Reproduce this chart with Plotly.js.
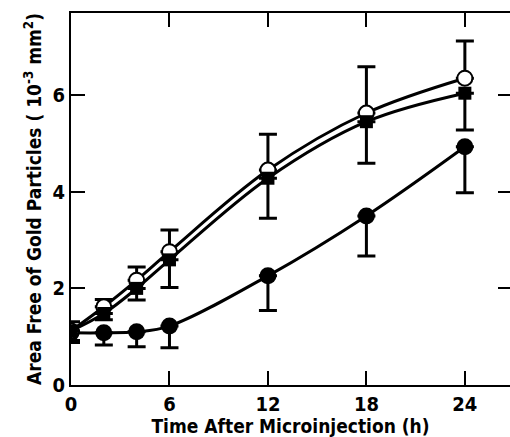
<!DOCTYPE html>
<html><head><meta charset="utf-8">
<script src="https://cdn.plot.ly/plotly-3.0.1.min.js"></script>
<style>html,body{margin:0;padding:0;background:#fff}</style>
</head><body>
<div id="chart" style="width:510px;height:437px"></div>
<script>
const hours = [0, 2, 4, 6, 12, 18, 24];
const openCircle = [1.12, 1.62, 2.17, 2.76, 4.45, 5.63, 6.35];
const openCircleErrUp = [0.19, 0.15, 0.27, 0.45, 0.74, 0.96, 0.77];
const filledSquare = [1.12, 1.48, 2.0, 2.59, 4.28, 5.45, 6.04];
const filledSquareErrDown = [0.2, 0.13, 0.24, 0.57, 0.83, 0.86, 0.76];
const filledCircle = [1.08, 1.08, 1.1, 1.22, 2.26, 3.5, 4.93];
const filledCircleErrDown = [0.2, 0.25, 0.31, 0.45, 0.72, 0.83, 0.95];
const xTicks = [0, 6, 12, 18, 24];
const yTicks = [0, 2, 4, 6];
const zeros = hours.map(() => 0);

const FONT = '"DejaVu Sans Condensed", "DejaVu Sans", sans-serif';

function errUp(arr) { return {type:'data', symmetric:false, array:arr, arrayminus:zeros, color:'#000', thickness:3, width:9}; }
function errDown(arr) { return {type:'data', symmetric:false, array:zeros, arrayminus:arr, color:'#000', thickness:3, width:9}; }

const traces = [
  {x: hours, y: filledCircle, mode:'lines+markers', line:{color:'#000', width:3, shape:'spline'},
   marker:{symbol:'circle', size:17, color:'#000'}, error_y: errDown(filledCircleErrDown)},
  {x: hours, y: openCircle, mode:'lines+markers', line:{color:'#000', width:3, shape:'spline'},
   marker:{symbol:'circle', size:15, color:'#fff', line:{color:'#000', width:2}}, error_y: errUp(openCircleErrUp)},
  {x: hours, y: filledSquare, mode:'lines+markers', line:{color:'#000', width:3, shape:'spline'},
   marker:{symbol:'square', size:13, color:'#000'}, error_y: errDown(filledSquareErrDown)}
];

const f = (size) => ({family:FONT, size:size, weight:'bold', stretch:'condensed', color:'#000'});

const layout = {
  width:510, height:437,
  margin:{l:71, r:0, t:13, b:52},
  paper_bgcolor:'#fff', plot_bgcolor:'#fff',
  showlegend:false,
  font:f(19),
  xaxis:{
    range:[0, 26.75], tickvals:xTicks, ticktext:xTicks.map(String),
    ticks:'inside', ticklen:14, tickwidth:2, tickcolor:'#000',
    showline:true, linecolor:'#000', linewidth:2, mirror:'ticks',
    showgrid:false, zeroline:false,
    tickfont:f(20),
    title:{text:'Time After Microinjection (h)', font:f(19), standoff:4},
    automargin:false
  },
  yaxis:{
    range:[0, 7.7], tickvals:yTicks, ticktext:yTicks.map(String),
    ticks:'inside', ticklen:14, tickwidth:2, tickcolor:'#000',
    showline:true, linecolor:'#000', linewidth:2, mirror:false,
    showgrid:false, zeroline:false,
    tickfont:f(20),
    title:{text:'Area Free of Gold Particles ( 10<sup>-3</sup> mm<sup>2</sup>)', font:f(19), standoff:6},
    automargin:false
  },
  yaxis2:{
    overlaying:'y', side:'right', range:[0, 7.7], tickvals:yTicks,
    showticklabels:false, ticks:'inside', ticklen:12, tickwidth:2, tickcolor:'#000',
    showline:false, showgrid:false, zeroline:false
  }
};

traces.push({x:[hours[0]], y:[yTicks[0]], yaxis:'y2', mode:'markers', marker:{opacity:0}, hoverinfo:'skip', showlegend:false});

Plotly.newPlot('chart', traces, layout, {displayModeBar:false, staticPlot:true});
</script>
</body></html>
